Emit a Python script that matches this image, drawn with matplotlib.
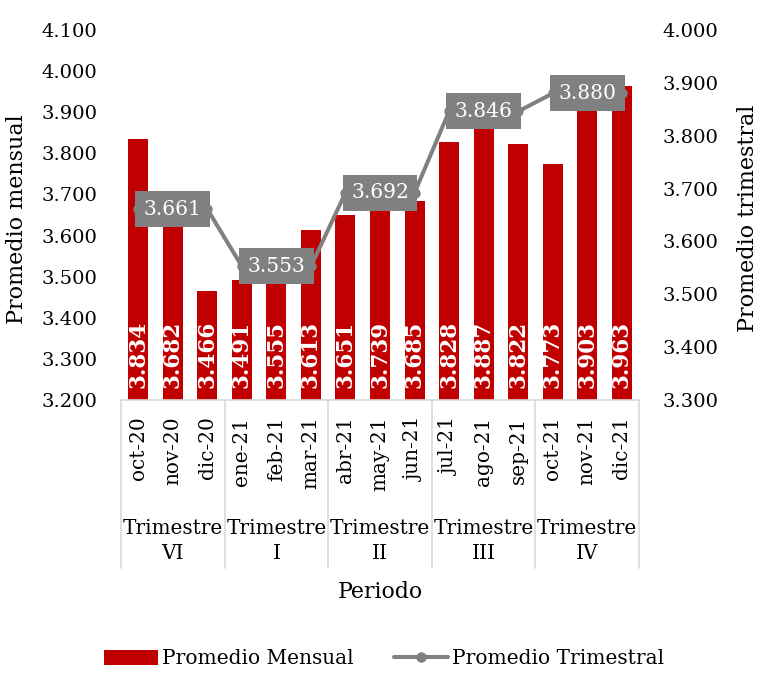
import matplotlib
matplotlib.use("Agg")
import matplotlib.pyplot as plt
import matplotlib.transforms as mtransforms
from matplotlib.ticker import FormatStrFormatter, MultipleLocator

# datos
meses = ["oct-20", "nov-20", "dic-20", "ene-21", "feb-21", "mar-21",
         "abr-21", "may-21", "jun-21", "jul-21", "ago-21", "sep-21",
         "oct-21", "nov-21", "dic-21"]
promedio_mensual = [3.834, 3.682, 3.466, 3.491, 3.555, 3.613,
                    3.651, 3.739, 3.685, 3.828, 3.887, 3.822,
                    3.773, 3.903, 3.963]
# promedio trimestral repetido en cada mes del trimestre
promedio_trimestral = [3.661, 3.661, 3.661, 3.553, 3.553, 3.553,
                       3.692, 3.692, 3.692, 3.846, 3.846, 3.846,
                       3.880, 3.880, 3.880]
trimestres = ["Trimestre\nVI", "Trimestre\nI", "Trimestre\nII",
              "Trimestre\nIII", "Trimestre\nIV"]

ROJO = "#C00000"
GRIS = "#808080"
EJE = "#D9D9D9"
FUENTE = "DejaVu Serif"

plt.rcParams["font.family"] = FUENTE

fig = plt.figure(figsize=(7.67, 6.87), dpi=100)
ax = fig.add_axes([121 / 767, 1 - 400 / 687, 518 / 767, 370 / 687])
ax2 = ax.twinx()

x = list(range(len(meses)))
ax.bar(x, promedio_mensual, width=0.58, color=ROJO, label="Promedio Mensual", zorder=2)
ax.set_ylim(3.2, 4.1)
ax.set_xlim(-0.5, len(meses) - 0.5)
ax.yaxis.set_major_locator(MultipleLocator(0.1))
ax.yaxis.set_major_formatter(FormatStrFormatter("%.3f"))

# etiquetas dentro de las barras
for xi, v in zip(x, promedio_mensual):
    ax.annotate(f"{v:.3f}", xy=(xi, 3.2), xytext=(0, 9), textcoords="offset points",
                rotation=90, ha="center", va="bottom", color="white",
                fontsize=15.5, fontweight="bold", zorder=3)

ax2.plot(x, promedio_trimestral, color=GRIS, lw=2.9, marker="o", markersize=6.5,
         label="Promedio Trimestral", zorder=4, solid_capstyle="round")
ax2.set_ylim(3.3, 4.0)
ax2.yaxis.set_major_locator(MultipleLocator(0.1))
ax2.yaxis.set_major_formatter(FormatStrFormatter("%.3f"))
for i in range(1, len(meses), 3):
    ax2.text(x[i], promedio_trimestral[i], f"{promedio_trimestral[i]:.3f}",
             ha="center", va="center", color="white", fontsize=14.6, zorder=5,
             bbox=dict(boxstyle="square,pad=0.42", fc=GRIS, ec="none"))

for a in (ax, ax2):
    for s in a.spines.values():
        s.set_visible(False)
    a.tick_params(axis="both", length=0, labelsize=14)
ax.spines["bottom"].set_visible(True)
ax.spines["bottom"].set_color(EJE)
ax.spines["bottom"].set_linewidth(1.2)
ax.tick_params(axis="y", pad=17)
ax2.tick_params(axis="y", pad=17)

ax.set_xticks(x)
ax.set_xticklabels(meses, rotation=90, fontsize=14.4)
ax.tick_params(axis="x", pad=12)

# separadores y etiquetas de trimestre
trans = mtransforms.blended_transform_factory(ax.transData, ax.transAxes)
for b in [-0.5, 2.5, 5.5, 8.5, 11.5, 14.5]:
    ax.plot([b, b], [0, -168 / 370], transform=trans, color=EJE, lw=1.2, clip_on=False)
for k, t in enumerate(trimestres):
    ax.text(3 * k + 1, -141 / 370, t, transform=trans, ha="center", va="center",
            fontsize=14.4, linespacing=1.4)

ax.text(0.5, -192 / 370, "Periodo", transform=ax.transAxes, ha="center", va="center",
        fontsize=15.8)
ax.set_ylabel("Promedio mensual", fontsize=16)
ax.yaxis.set_label_coords(-0.18, 0.49)
ax2.set_ylabel("Promedio trimestral", fontsize=16)
ax2.yaxis.set_label_coords(1.189, 0.49)

h1, l1 = ax.get_legend_handles_labels()
h2, l2 = ax2.get_legend_handles_labels()
fig.legend(h1 + h2, l1 + l2, ncol=2, loc="center", bbox_to_anchor=(384 / 767, 1 - 659 / 687),
           frameon=False, fontsize=14.5, handlelength=2.7, handletextpad=0.2,
           columnspacing=2.0)

fig.savefig("out.png", dpi=100)
